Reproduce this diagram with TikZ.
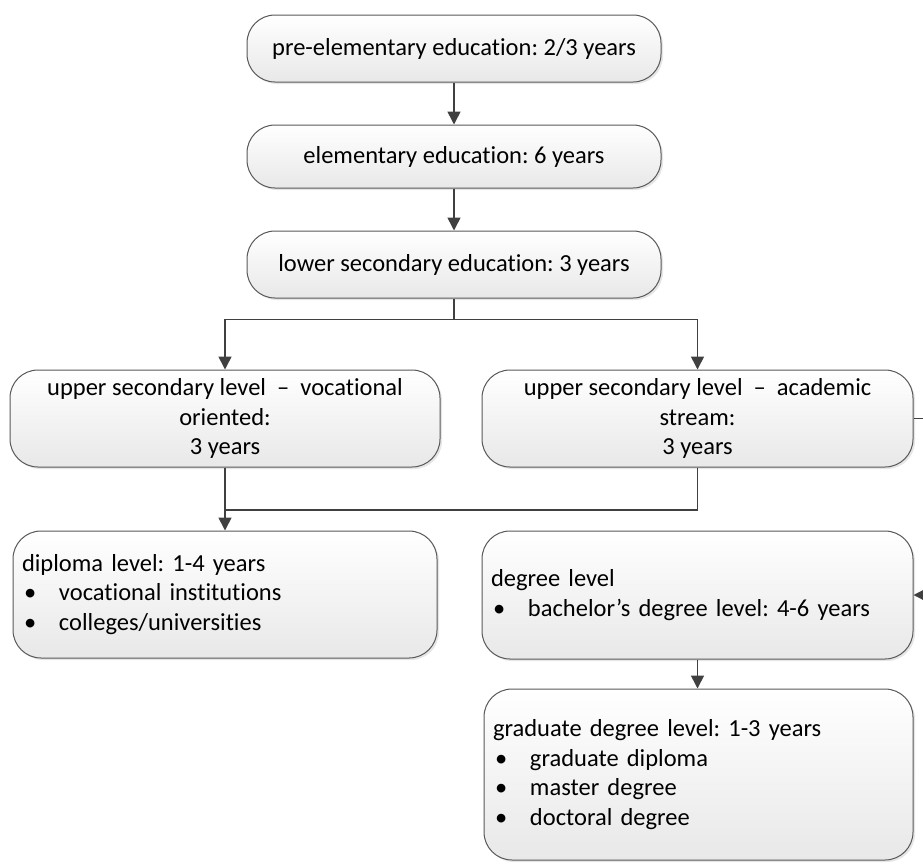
\documentclass[tikz,border=0pt]{standalone}
\usepackage{fontspec}
\setmainfont{Carlito}[Ligatures=NoCommon]
\usetikzlibrary{arrows.meta,shadows}
\frenchspacing
\newcommand{\itm}[1]{\makebox[37pt][l]{\hspace{2pt}\textbullet}#1}
\begin{document}
\begin{tikzpicture}[x=1pt,y=-1pt,font=\fontsize{24.5}{29.5}\selectfont,
box/.style={draw=black!65,line width=1pt,top color=white,bottom color=black!9,drop shadow={opacity=0.2,shadow xshift=2pt,shadow yshift=-2pt},inner xsep=9pt,inner ysep=0pt,rounded corners=28pt},
link/.style={draw=black!75,line width=1.6pt},
arr/.style={link,-{Triangle[width=13pt,length=13pt]}}]
\useasboundingbox(0,0)rectangle(923,865);
\node[box,minimum width=414pt,minimum height=67pt](pre)at(454,48.5){pre-elementary education: 2/3 years};
\node[box,minimum width=414pt,minimum height=63pt](elem)at(454,156.5){elementary education: 6 years};
\node[box,minimum width=414pt,minimum height=67pt](low)at(454,264.5){lower secondary education: 3 years};
\node[box,minimum width=430pt,minimum height=97pt,align=center](voc)at(225,418.5){upper secondary level ~–~ vocational\\oriented:\\3 years};
\node[box,minimum width=431pt,minimum height=97pt,align=center](acad)at(697.5,418.5){upper secondary level ~–~ academic\\stream:\\3 years};
\node[box,text width=406pt,minimum height=127pt,align=left](dip)at(225,594.5){diploma level: 1-4 years\\\itm{vocational institutions}\\\itm{colleges/universities}};
\node[box,text width=413pt,minimum height=128pt,align=left](deg)at(697.5,595){degree level\\\itm{bachelor’s degree level: 4-6 years}};
\node[box,text width=411pt,minimum height=171pt,align=left](grad)at(698.5,774.5){graduate degree level: 1-3 years\\\itm{graduate diploma}\\\itm{master degree}\\\itm{doctoral degree}};
\draw[arr](pre)--(elem);
\draw[arr](elem)--(low);
\draw[link](low.south)--++(0,21)coordinate(split);
\draw[arr](split)-|(voc.north);
\draw[arr](split)-|(acad.north);
\coordinate(join)at(225,510);
\draw[arr](voc.south)--(dip.north);
\draw[link](acad.south)|-(join);
\draw[arr](acad.east)--++(17,0)|-(deg.east);
\draw[arr](deg.south)--(deg.south|-grad.north);
\end{tikzpicture}
\end{document}
